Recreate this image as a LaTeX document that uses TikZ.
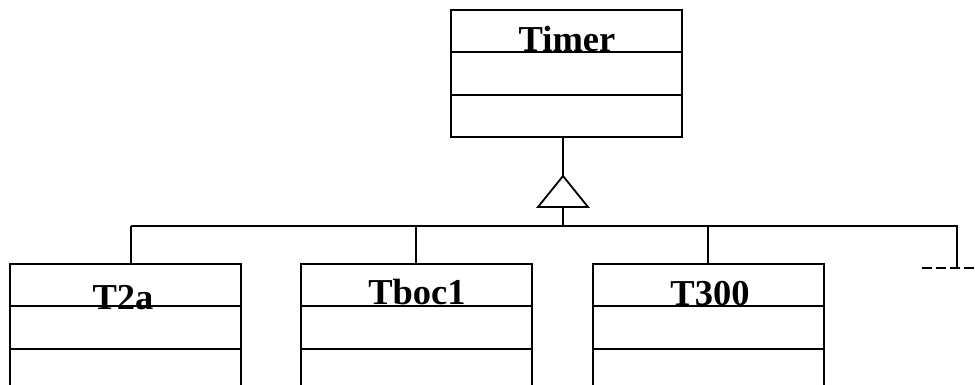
\documentclass[tikz,border=0pt]{standalone}
\usepackage{fontspec}
\setmainfont{Liberation Serif}
\begin{document}
\begin{tikzpicture}[x=1pt,y=-1pt,
  classbox/.style={draw, line width=1.8pt, minimum width=231pt, minimum height=127pt,
                   inner sep=0pt, outer sep=0pt, anchor=north west},
  link/.style={line width=1.8pt},
  cname/.style={font=\fontsize{36.5}{40}\selectfont\bfseries, anchor=base, inner sep=0pt},
  extension/.style={line width=1.8pt, dash pattern=on 10pt off 4pt}]
  \useasboundingbox (0,0) rectangle (975,385);
  \clip (0,0) rectangle (975,385);

  % class boxes
  \node[classbox] (timer) at (451,10) {};
  \node[classbox] (t2a)   at (10,264) {};
  \node[classbox] (tboc)  at (301,264) {};
  \node[classbox] (t300)  at (593,264) {};

  % compartment separators
  \foreach \c in {timer,t2a,tboc,t300} {
    \draw[link] ([yshift=-42pt]\c.north west) -- ([yshift=-42pt]\c.north east);
    \draw[link] ([yshift=-85pt]\c.north west) -- ([yshift=-85pt]\c.north east);
  }

  % class names
  \node[cname] (timername) at (567,52)  {Timer};
  \node[cname] (t2aname)   at (123,309) {T2a};
  \node[cname] (tbocname)  at (417,304) {Tboc1};
  \node[cname] (t300name)  at (710,305) {T300};

  % generalization triangle and bus
  \coordinate (apex) at (563,176);
  \coordinate (base) at (563,207);
  \coordinate (busL) at (131,226);
  \coordinate (busA) at (416,226);
  \coordinate (busB) at (708,226);
  \coordinate (busM) at (563,226);
  \coordinate (busR) at (957,226);
  \coordinate (ext)  at (957,268);
  \coordinate (extL) at (922,268);
  \coordinate (extR) at (975,268);

  \draw[link] (apex |- timer.south) -- (apex);
  \draw[link, line join=miter] (apex) -- (538,207) -- (588,207) -- cycle;
  \draw[link] (base) -- (busM);
  \draw[link] (busL) -- (busR) -- (ext);

  \draw[link] (busL) -- (busL |- t2a.north);
  \draw[link] (busA) -- (busA |- tboc.north);
  \draw[link] (busB) -- (busB |- t300.north);

  \draw[extension] (extL) -- (extR);
\end{tikzpicture}
\end{document}
